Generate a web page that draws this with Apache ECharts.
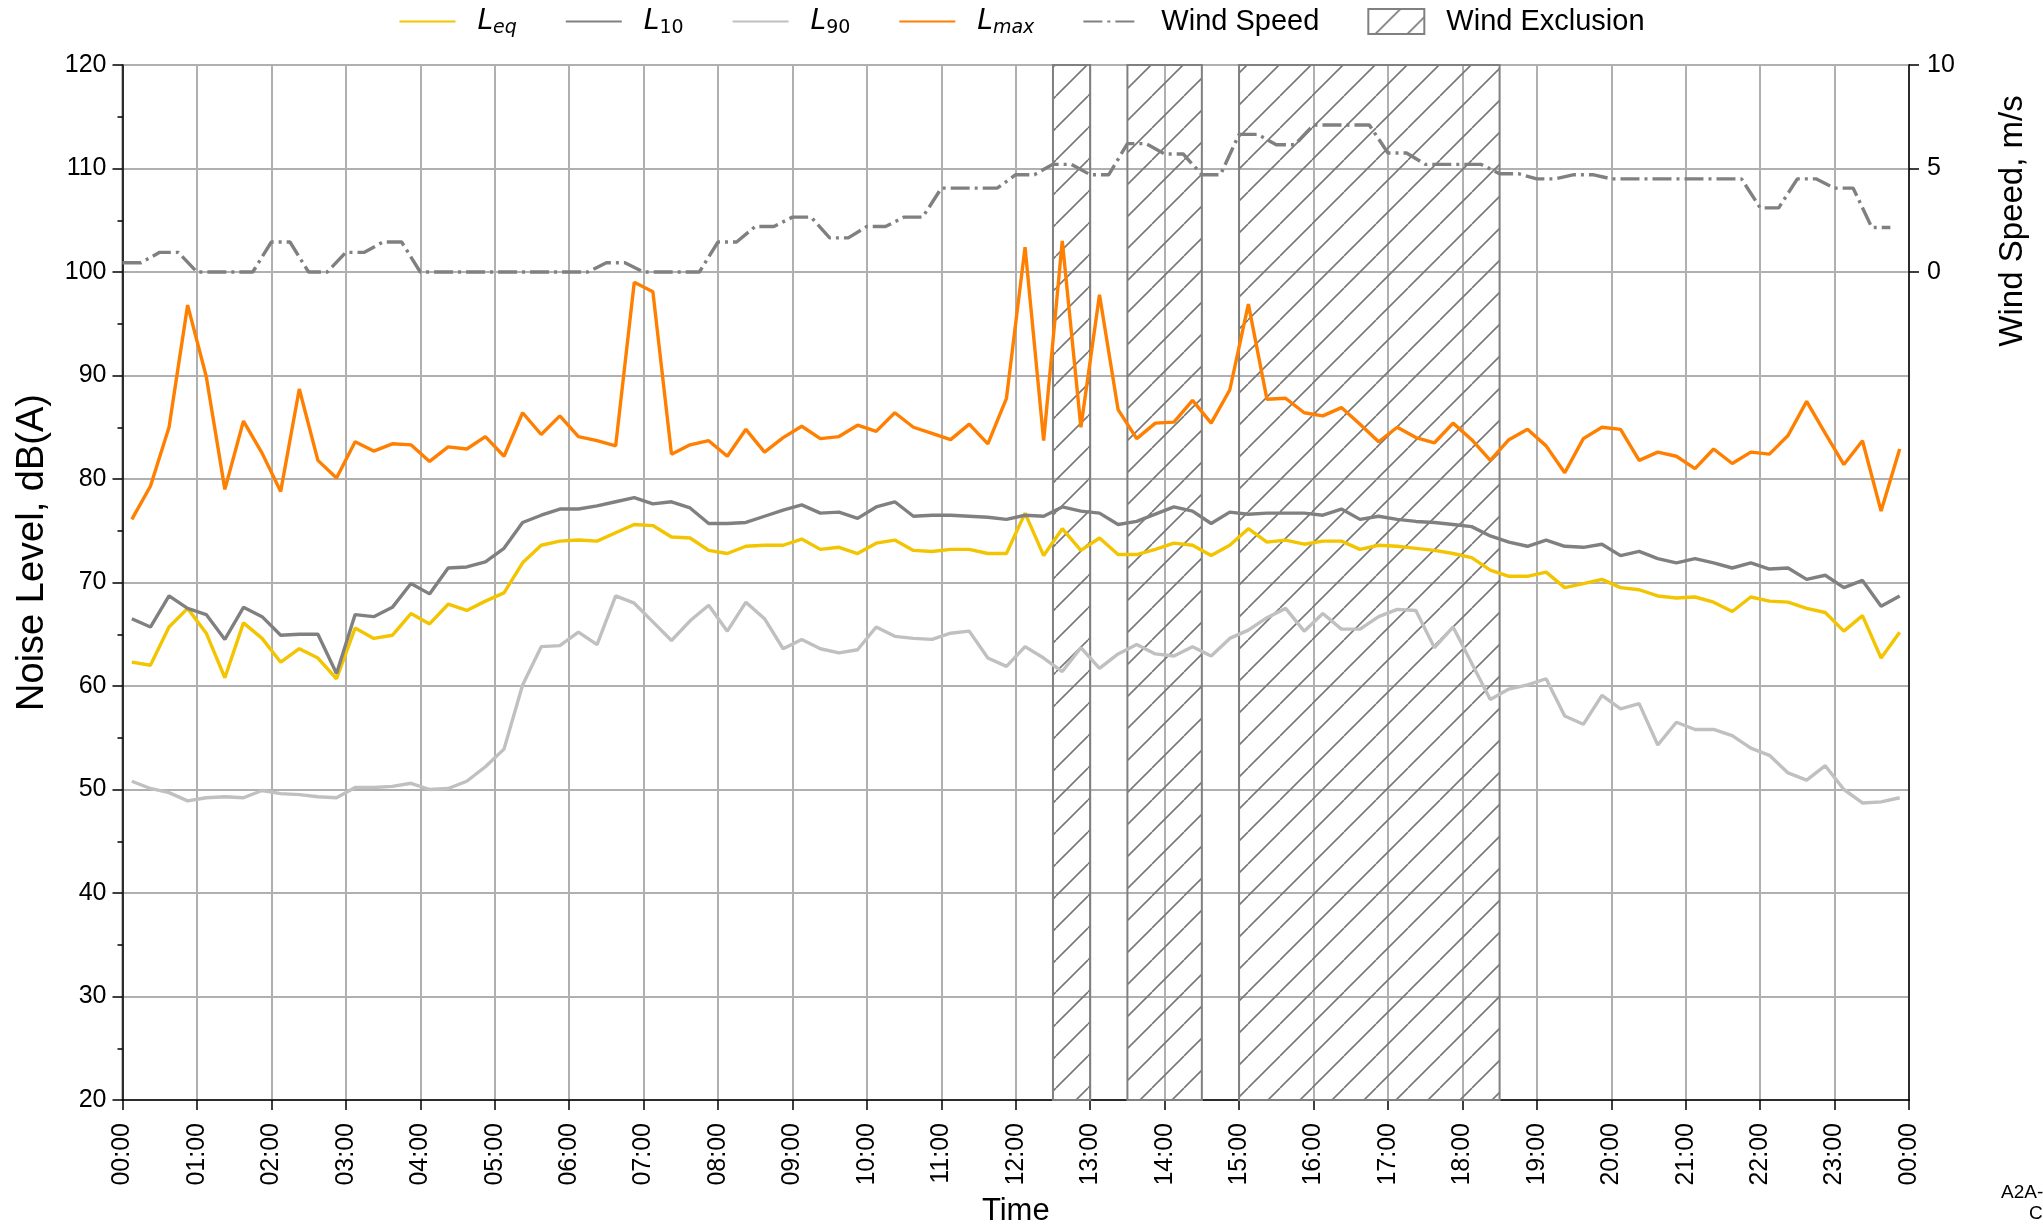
<!DOCTYPE html>
<html>
<head>
<meta charset="utf-8">
<script src="https://cdn.jsdelivr.net/npm/echarts@6/dist/echarts.min.js"></script>
<style>
html,body{margin:0;padding:0;background:#ffffff;}
#chart{width:2043px;height:1224px;}
</style>
</head>
<body>
<div id="chart"></div>
<script>
// ---------------- DATA ----------------
const hourLabels = ['00:00','01:00','02:00','03:00','04:00','05:00','06:00','07:00','08:00','09:00','10:00','11:00',
  '12:00','13:00','14:00','15:00','16:00','17:00','18:00','19:00','20:00','21:00','22:00','23:00','00:00'];

// 15-minute noise intervals, plotted at interval mid-points (minutes after 00:00)
const noiseStepMin = 15;
const noiseOffsetMin = 7.5;
// wind readings every 15 minutes starting 00:00
const windStepMin = 15;

const leq = [62.3,62.0,65.7,67.5,65.1,60.8,66.1,64.6,62.3,63.6,62.7,60.7,65.6,64.6,64.9,67.0,66.0,67.9,67.3,68.2,69.0,71.9,73.6,74.0,
  74.1,74.0,74.8,75.6,75.5,74.4,74.3,73.1,72.8,73.5,73.6,73.6,
  74.2,73.2,73.4,72.8,73.8,74.1,73.1,73.0,73.2,73.2,72.8,72.8,76.7,72.6,75.2,73.1,74.3,72.7,72.7,73.2,73.8,73.6,72.6,73.6,
  75.2,73.9,74.1,73.7,74.0,74.0,73.2,73.6,73.5,
  73.3,73.1,72.8,72.4,71.2,70.6,70.6,71.0,69.5,69.9,70.3,69.5,69.3,68.7,68.5,68.6,68.1,67.2,68.6,68.2,68.1,67.5,67.1,65.3,
  66.8,62.7,65.2];

const l10 = [66.5,65.7,68.7,67.5,66.9,64.5,67.6,66.7,64.9,65.0,65.0,61.2,66.9,66.7,67.6,69.9,68.9,71.4,71.5,72.0,73.3,75.8,76.5,77.1,
  77.1,77.4,77.8,78.2,77.6,77.8,77.2,75.7,75.7,75.8,76.4,77.0,
  77.5,76.7,76.8,76.2,77.3,77.8,76.4,76.5,76.5,76.4,76.3,76.1,76.5,76.4,77.3,76.9,76.7,75.6,75.9,76.6,77.3,76.9,75.7,76.8,
  76.6,76.7,76.7,76.7,76.5,77.1,76.1,76.4,76.1,
  75.9,75.8,75.6,75.4,74.5,73.9,73.5,74.1,73.5,73.4,73.7,72.6,73.0,72.3,71.9,72.3,71.9,71.4,71.9,71.3,71.4,70.3,70.7,69.5,
  70.2,67.7,68.7];

const l90 = [50.8,50.1,49.7,48.9,49.2,49.3,49.2,49.9,49.6,49.5,49.3,49.2,50.2,50.2,50.3,50.6,50.0,50.1,50.8,52.2,53.9,60.1,63.8,63.9,
  65.2,64.0,68.7,68.0,66.2,64.4,66.3,67.8,65.3,68.1,66.5,63.6,
  64.5,63.6,63.2,63.5,65.7,64.8,64.6,64.5,65.1,65.3,62.7,61.9,63.8,62.7,61.4,63.7,61.7,63.1,64.0,63.1,62.9,63.8,62.9,64.6,
  65.4,66.6,67.5,65.3,67.0,65.5,65.5,66.7,67.4,
  67.3,63.7,65.7,62.2,58.7,59.7,60.1,60.7,57.1,56.3,59.1,57.8,58.3,54.3,56.5,55.8,55.8,55.2,54.0,53.3,51.6,50.9,52.3,50.0,
  48.7,48.8,49.2];

const lmax = [76.1,79.3,85.0,96.8,89.9,79.0,85.6,82.5,78.8,88.7,81.8,80.1,83.6,82.7,83.4,83.3,81.7,83.1,82.9,84.1,82.2,86.4,84.3,86.1,
  84.1,83.7,83.2,99.0,98.1,82.4,83.3,83.7,82.2,84.8,82.6,84.0,
  85.1,83.9,84.1,85.2,84.6,86.4,85.0,84.4,83.8,85.3,83.4,87.8,102.4,83.7,103.0,85.0,97.8,86.7,83.9,85.4,85.5,87.6,85.4,88.6,
  96.9,87.7,87.8,86.4,86.1,86.9,85.3,83.6,85.0,
  84.0,83.5,85.4,83.8,81.8,83.8,84.8,83.2,80.6,83.9,85.0,84.8,81.8,82.6,82.2,81.0,82.9,81.5,82.6,82.4,84.2,87.5,84.4,81.4,
  83.7,76.9,82.9];

const windSpeed = [0.45,0.45,0.95,0.95, 0,0,0,0, 1.45,1.45,0,0, 0.95,0.95,1.45,1.45,
  0,0,0,0, 0,0,0,0, 0,0,0.45,0.45, 0,0,0,0,
  1.45,1.45,2.2,2.2, 2.65,2.65,1.65,1.65, 2.2,2.2,2.65,2.65, 4.05,4.05,4.05,4.05,
  4.7,4.7,5.2,5.2, 4.7,4.7,6.2,6.2, 5.7,5.7,4.7,4.7, 6.65,6.65,6.15,6.15,
  7.1,7.1,7.1,7.1, 5.75,5.75,5.2,5.2, 5.2,5.2,4.75,4.75, 4.5,4.5,4.7,4.7,
  4.5,4.5,4.5,4.5, 4.5,4.5,4.5,4.5, 3.1,3.1,4.5,4.5, 4.05,4.05,2.15,2.15];

const exclusionStart = ['12:30','13:30','15:00'];
const exclusionEnd   = ['13:00','14:30','18:30'];

const noiseTicks = [20,30,40,50,60,70,80,90,100,110,120];
const windTicks = [0,5,10];

// ---------------- HELPERS ----------------
function toMin(hhmm){ const p = hhmm.split(':'); return (+p[0])*60 + (+p[1]); }
function noisePairs(arr){ return arr.map((v,i)=>[i*noiseStepMin + noiseOffsetMin, v]); }
function windPairs(arr){ return arr.map((v,i)=>[i*windStepMin, v]); }
const exclusionData = exclusionStart.map((s,i)=>[toMin(s), toMin(exclusionEnd[i])]);

// hatch pattern (like matplotlib '//')
const hatchCanvas = document.createElement('canvas');
const HS = 32;
hatchCanvas.width = HS; hatchCanvas.height = HS;
(function(){
  const c = hatchCanvas.getContext('2d');
  c.strokeStyle = '#777777';
  c.lineWidth = 1.6;
  for (const off of [-HS, 0, HS]) {
    c.beginPath(); c.moveTo(off, HS); c.lineTo(off + HS, 0); c.stroke();
  }
})();
const hatchFill = { image: hatchCanvas, repeat: 'repeat' };

const FONT = 'Liberation Sans';
const MATH = 'DejaVu Sans';
const WIND_DASH = [19,5,3,5];
const LW = 3.4;

const legendNames = {
  'Leq': '{L|L}{si|eq}',
  'L10': '{L|L}{s|10}',
  'L90': '{L|L}{s|90}',
  'Lmax': '{L|L}{si|max}'
};

const chart = echarts.init(document.getElementById('chart'), null, {renderer:'canvas'});

const option = {
  animation: false,
  backgroundColor: '#ffffff',
  textStyle: { fontFamily: FONT },
  legend: {
    left: 'center',
    top: 2,
    itemWidth: 56,
    itemHeight: 25,
    itemGap: 48,
    itemStyle: { opacity: 0 },
    data: [
      { name: 'Leq' },
      { name: 'L10' },
      { name: 'L90' },
      { name: 'Lmax' },
      { name: 'Wind Speed', lineStyle: { type: WIND_DASH } },
      { name: 'Wind Exclusion', icon: 'rect',
        itemStyle: { opacity: 1, color: hatchFill, borderColor: '#808080', borderWidth: 2 } }
    ],
    formatter: function(name){ return legendNames[name] || ('{t|' + name + '}'); },
    textStyle: {
      color: '#000',
      fontFamily: FONT,
      fontSize: 29,
      padding: [0,0,0,17],
      rich: {
        L: { fontFamily: MATH, fontStyle: 'italic', fontSize: 28, lineHeight: 32, color: '#000' },
        si: { fontFamily: MATH, fontStyle: 'italic', fontSize: 19, lineHeight: 12, verticalAlign: 'bottom', color: '#000' },
        s: { fontFamily: MATH, fontSize: 19, lineHeight: 12, verticalAlign: 'bottom', color: '#000' },
        t: { fontFamily: FONT, fontSize: 29, lineHeight: 32, color: '#000' }
      }
    }
  },
  grid: {
    left: 122.5, right: 134, top: 65, bottom: 124,
    outerBoundsMode: 'none',
    containLabel: false,
    show: true, borderColor: '#000', borderWidth: 1.5, backgroundColor: 'transparent'
  },
  xAxis: {
    type: 'value',
    min: 0, max: 1440, interval: 60,
    name: 'Time',
    nameLocation: 'middle',
    nameGap: 96,
    nameTextStyle: { fontFamily: FONT, fontSize: 31, color: '#000' },
    axisLine: { show: true, onZero: false, lineStyle: { color: '#000', width: 1.5 } },
    axisTick: { show: true, length: 10, lineStyle: { color: '#000', width: 1.5 } },
    axisLabel: {
      rotate: 90, fontSize: 25, fontFamily: FONT, color: '#000', margin: 23,
      formatter: function(v){ return hourLabels[Math.round(v/60)]; }
    },
    splitLine: { show: true, lineStyle: { color: '#b0b0b0', width: 2 } }
  },
  yAxis: [
    {
      type: 'value',
      min: 20, max: 120, interval: 10,
      name: 'Noise Level, dB(A)',
      nameLocation: 'middle',
      nameGap: 71,
      nameTextStyle: { fontFamily: FONT, fontSize: 38, color: '#000', padding: [0,0,0,60] },
      axisLine: { show: true, lineStyle: { color: '#000', width: 1.5 } },
      axisTick: { show: true, length: 10, lineStyle: { color: '#000', width: 1.5 } },
      minorTick: { show: true, splitNumber: 2, length: 5, lineStyle: { color: '#000', width: 1.5 } },
      axisLabel: { fontSize: 25, fontFamily: FONT, color: '#000', margin: 16,
        customValues: noiseTicks },
      splitLine: { show: true, lineStyle: { color: '#b0b0b0', width: 2 } }
    },
    {
      type: 'value',
      position: 'right',
      min: -40, max: 10, interval: 5,
      axisLine: { show: true, lineStyle: { color: '#000', width: 1.5 } },
      axisTick: { show: true, length: 10, lineStyle: { color: '#000', width: 1.5 }, customValues: windTicks },
      axisLabel: { fontSize: 25, fontFamily: FONT, color: '#000', margin: 18, customValues: windTicks },
      splitLine: { show: false }
    }
  ],
  graphic: [
    { type: 'text', x: 2013, y: 221, rotation: Math.PI/2,
      style: { text: 'Wind Speed, m/s', fontFamily: FONT, fontSize: 33, fill: '#000', align: 'center', verticalAlign: 'middle' } },
    { type: 'text', x: 2001, y: 1193,
      style: { text: 'A2A-0001', fontFamily: FONT, fontSize: 19, fill: '#000', align: 'left', verticalAlign: 'middle' } },
    { type: 'text', x: 2029, y: 1214,
      style: { text: 'Chart', fontFamily: FONT, fontSize: 19, fill: '#000', align: 'left', verticalAlign: 'middle' } }
  ],
  series: [
    {
      name: 'Wind Exclusion',
      type: 'custom',
      z: 1,
      silent: true,
      itemStyle: { color: hatchFill, borderColor: '#808080', borderWidth: 2 },
      encode: { x: [0,1] },
      data: exclusionData,
      renderItem: function(params, api){
        const p0 = api.coord([api.value(0), 120]);
        const p1 = api.coord([api.value(1), 20]);
        return {
          type: 'rect',
          shape: { x: p0[0], y: p0[1], width: p1[0]-p0[0], height: p1[1]-p0[1] },
          style: { fill: hatchFill, stroke: '#808080', lineWidth: 2 }
        };
      }
    },
    { name: 'Leq', type: 'line', z: 3, symbol: 'none', data: noisePairs(leq),
      itemStyle: { color: '#f2c500' }, lineStyle: { color: '#f2c500', width: LW } },
    { name: 'L10', type: 'line', z: 3, symbol: 'none', data: noisePairs(l10),
      itemStyle: { color: '#808080' }, lineStyle: { color: '#808080', width: LW } },
    { name: 'L90', type: 'line', z: 3, symbol: 'none', data: noisePairs(l90),
      itemStyle: { color: '#c0c0c0' }, lineStyle: { color: '#c0c0c0', width: LW } },
    { name: 'Lmax', type: 'line', z: 3, symbol: 'none', data: noisePairs(lmax),
      itemStyle: { color: '#ff7f00' }, lineStyle: { color: '#ff7f00', width: LW } },
    { name: 'Wind Speed', type: 'line', z: 3, symbol: 'none', yAxisIndex: 1, data: windPairs(windSpeed),
      itemStyle: { color: '#808080' }, lineStyle: { color: '#808080', width: LW, type: WIND_DASH } }
  ]
};
chart.setOption(option);
</script>
</body>
</html>
